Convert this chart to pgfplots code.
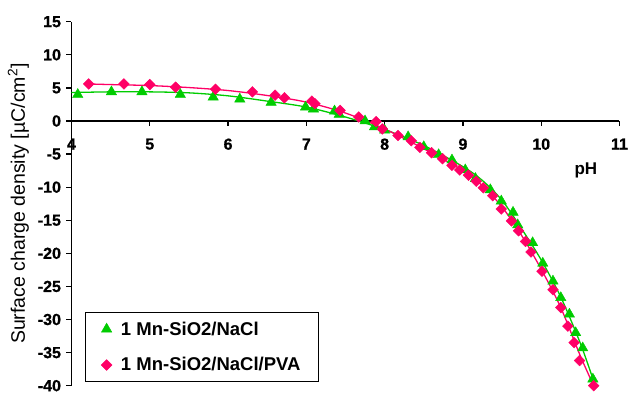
\documentclass[border=0pt]{standalone}
\usepackage{pgfplots}
\pgfplotsset{compat=1.18}
\usepackage{fontspec}
\setmainfont{Liberation Sans}
\newfontfamily\tickfont[FakeBold=0.8]{Liberation Sans}
\definecolor{cgreen}{RGB}{0,204,0}
\definecolor{cpink}{RGB}{255,0,102}
\newcommand{\tl}[1]{{\tickfont\bfseries #1}}
\begin{document}
\begin{tikzpicture}
\begin{axis}[
  scale only axis, width=548pt, height=364pt,
  xmin=4, xmax=11, ymin=-40, ymax=15,
  axis x line*=middle, axis y line*=left,
  hide obscured x ticks=false, hide obscured y ticks=false,
  xtick={4,5,...,11}, ytick={-40,-35,...,15},
  xticklabels={\tl{4},\tl{5},\tl{6},\tl{7},\tl{8},\tl{9},\tl{10},\tl{11}},
  yticklabels={\tl{-40},\tl{-35},\tl{-30},\tl{-25},\tl{-20},\tl{-15},\tl{-10},\tl{-5},\tl{0},\tl{5},\tl{10},\tl{15}},
  tick align=outside, major tick length=5pt,
  axis line style={line width=1.5pt, black},
  tick style={line width=1.3pt, black},
  tick label style={font=\fontsize{16}{18}\selectfont},
  xticklabel style={yshift=-9pt},
  yticklabel style={xshift=-2pt},
  ylabel={Surface charge density [µC/cm\textsuperscript{2}]},
  ylabel style={font=\fontsize{19.5}{22}\selectfont, yshift=2pt},
  legend cell align=left,
  legend style={at={(0.024,0.01)}, anchor=south west, draw=black, line width=1.2pt,
    font=\bfseries\fontsize{18.5}{21}\selectfont, row sep=17pt, column sep=7pt,
    inner xsep=16pt, inner ysep=7pt},
]
\coordinate (O) at (axis cs:4,-40);
% fitted curves
\addplot[cgreen, line width=1.3pt, smooth, forget plot] coordinates {
(4.0,4.3) (4.5,4.4) (5.0,4.4) (5.5,4.25) (6.0,3.8) (6.5,3.0) (7.0,2.1) (7.5,0.6) (8.0,-1.3) (8.5,-3.7) (9.0,-6.9) (9.25,-9.0) (9.5,-12.0) (9.75,-16.3) (10.0,-21.0) (10.25,-26.6) (10.5,-33.6) (10.67,-39.3)};
\addplot[cpink, line width=1.3pt, smooth, forget plot] coordinates {
(4.2,5.6) (4.5,5.5) (5.0,5.35) (5.5,5.05) (6.0,4.6) (6.5,3.85) (7.0,2.85) (7.5,1.2) (8.0,-1.2) (8.5,-4.2) (9.0,-7.5) (9.25,-9.8) (9.5,-13.0) (9.75,-17.3) (10.0,-22.4) (10.25,-28.2) (10.5,-35.5) (10.67,-40)};
% data points
\addplot[only marks, mark=triangle*, mark size=6pt, color=cgreen, mark options={solid, line width=0.4pt}] coordinates {
(4.08,4.0) (4.51,4.4) (4.90,4.4) (5.39,4.0) (5.81,3.6) (6.15,3.3) (6.55,2.8) (6.99,2.1) (7.09,1.8) (7.36,1.5) (7.42,1.0) (7.75,0.0) (7.87,-0.9) (8.0,-1.4) (8.30,-2.4) (8.50,-3.9) (8.69,-5.1) (8.86,-5.9) (9.03,-7.4) (9.16,-8.7) (9.35,-10.4) (9.49,-12.1) (9.64,-13.8) (9.70,-15.7) (9.89,-18.4) (10.02,-21.5) (10.15,-24.2) (10.25,-26.7) (10.36,-29.2) (10.44,-32.0) (10.53,-34.3) (10.66,-39.0)};
\addlegendentry{1 Mn-SiO2/NaCl}
\addplot[only marks, mark=square*, mark size=3.8pt, color=cpink, mark options={solid, rotate=45, line width=0.4pt}] coordinates {
(4.22,5.6) (4.67,5.6) (5.00,5.5) (5.33,5.1) (5.84,4.8) (6.31,4.4) (6.60,3.9) (6.72,3.5) (7.07,3.0) (7.11,2.6) (7.43,1.6) (7.67,0.6) (7.89,-0.1) (7.97,-1.2) (8.17,-2.2) (8.34,-3.0) (8.45,-4.0) (8.60,-4.8) (8.74,-5.7) (8.86,-6.7) (8.96,-7.4) (9.07,-8.2) (9.17,-9.1) (9.26,-10.1) (9.38,-11.3) (9.49,-13.3) (9.62,-15.1) (9.71,-16.6) (9.80,-18.2) (9.87,-19.8) (10.01,-22.7) (10.15,-25.5) (10.25,-28.2) (10.34,-31.0) (10.42,-33.5) (10.49,-36.2) (10.67,-40.0)};
\addlegendentry{1 Mn-SiO2/NaCl/PVA}
\node[font=\bfseries\fontsize{17}{20}\selectfont] at (axis cs:10.57,-7.4) {pH};
\end{axis}
\pgfresetboundingbox
\path ([shift={(-71.5pt,-8.3pt)}]O) rectangle ++(630pt,394pt);
\end{tikzpicture}
\end{document}
